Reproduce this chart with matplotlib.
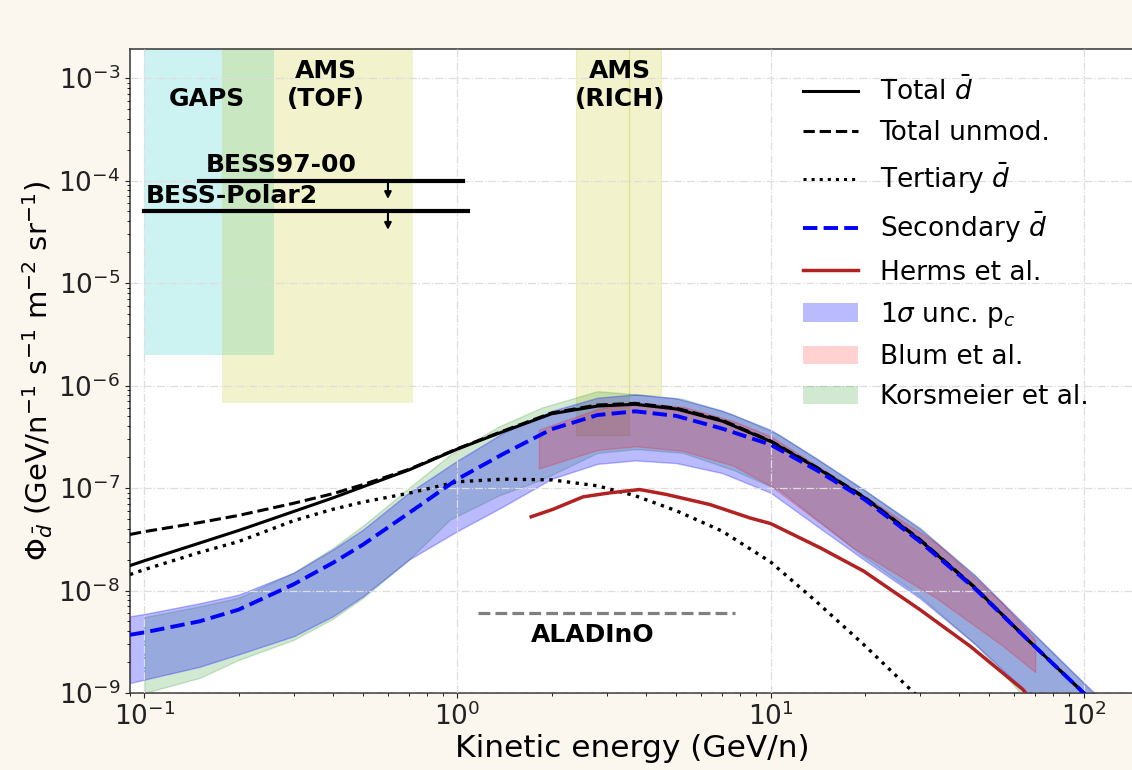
import matplotlib
matplotlib.use("Agg")
import matplotlib.pyplot as plt
from matplotlib.lines import Line2D
from matplotlib.patches import Patch
import numpy as np

# energies (GeV/n) for the model curves
energy = [0.09, 0.1, 0.15, 0.2, 0.3, 0.4, 0.5, 0.7, 1.0, 1.4, 2.0, 2.8, 3.7, 5.0,
          7.0, 10, 14, 20, 30, 45, 65, 100, 120]
total = [1.75e-8, 1.95e-8, 2.9e-8, 3.85e-8, 5.9e-8, 8.0e-8, 1.03e-7, 1.5e-7, 2.4e-7,
         3.55e-7, 5.3e-7, 6.3e-7, 6.55e-7, 5.9e-7, 4.5e-7, 2.85e-7, 1.58e-7, 8.0e-8,
         3.1e-8, 1.06e-8, 3.5e-9, 1.0e-9, 5.5e-10]
total_unmod = [3.52e-8, 3.75e-8, 4.6e-8, 5.4e-8, 7.1e-8, 8.8e-8, 1.08e-7, 1.52e-7, 2.42e-7,
               3.6e-7, 5.4e-7, 6.45e-7, 6.7e-7, 6.0e-7, 4.6e-7, 2.88e-7, 1.6e-7, 8.1e-8,
               3.15e-8, 1.07e-8, 3.5e-9, 1.0e-9, 5.5e-10]
secondary = [3.7e-9, 3.9e-9, 5.0e-9, 6.5e-9, 1.15e-8, 1.86e-8, 2.81e-8, 5.7e-8, 1.22e-7,
             2.15e-7, 3.75e-7, 5.15e-7, 5.6e-7, 5.05e-7, 3.8e-7, 2.65e-7, 1.5e-7, 7.7e-8,
             3.0e-8, 1.04e-8, 3.5e-9, 1.0e-9, 5.5e-10]
unc_upper = [5.6e-9, 5.9e-9, 7.5e-9, 9.1e-9, 1.49e-8, 2.51e-8, 3.94e-8, 9.0e-8, 1.85e-7,
             3.45e-7, 5.65e-7, 7.6e-7, 8.2e-7, 7.5e-7, 5.7e-7, 3.7e-7, 1.95e-7, 9.5e-8,
             4.0e-8, 1.4e-8, 4.6e-9, 1.26e-9, 7.5e-10]
unc_lower = [1.25e-9, 1.35e-9, 1.8e-9, 2.38e-9, 3.58e-9, 5.6e-9, 8.8e-9, 2.0e-8, 3.8e-8,
             6.6e-8, 1.23e-7, 1.72e-7, 1.86e-7, 1.75e-7, 1.4e-7, 9.0e-8, 4.3e-8, 1.97e-8,
             8.4e-9, 3.0e-9, 1.05e-9, 2e-10, 1e-10]

# tertiary
tert_energy = [0.09, 0.1, 0.15, 0.2, 0.3, 0.4, 0.5, 0.7, 1.0, 1.4, 2.0, 2.8, 3.7, 5.0,
               7.0, 10, 14, 20, 31]
tertiary = [1.43e-8, 1.6e-8, 2.35e-8, 3.0e-8, 4.8e-8, 6.2e-8, 7.3e-8, 8.9e-8, 1.15e-7,
            1.22e-7, 1.2e-7, 1.05e-7, 8.4e-8, 6.0e-8, 3.8e-8, 1.9e-8, 7.8e-9, 2.9e-9, 8e-10]

# Herms et al.
herms_energy = [1.72, 2.02, 2.52, 3.07, 3.82, 4.65, 6.4, 8.6, 10, 14.4, 19.8, 30, 43.4, 64, 66]
herms = [5.24e-8, 6.2e-8, 8.2e-8, 8.97e-8, 9.66e-8, 8.65e-8, 6.9e-8, 5.1e-8, 4.5e-8,
         2.61e-8, 1.55e-8, 6.5e-9, 2.86e-9, 1.08e-9, 9.5e-10]

# Blum et al. band
blum_energy = [1.82, 2.8, 3.73, 5.26, 7.6, 10, 18.4, 33.9, 55, 70]
blum_upper = [3.7e-7, 5.9e-7, 6.8e-7, 6.2e-7, 4.5e-7, 3.2e-7, 9.8e-8, 2.9e-8, 7.5e-9, 3.3e-9]
blum_lower = [1.55e-7, 2.35e-7, 2.55e-7, 2.3e-7, 1.65e-7, 1.05e-7, 2.6e-8, 8.4e-9, 2.9e-9, 1.6e-9]

# Korsmeier et al. band
kors_energy = [0.1, 0.15, 0.2, 0.3, 0.4, 0.5, 0.7, 0.945, 1.36, 1.86, 2.8, 3.73, 5.26,
               7.6, 10.7, 20, 30, 45, 65, 100, 110]
kors_upper = [5.5e-9, 7.0e-9, 8.5e-9, 1.5e-8, 2.6e-8, 4.3e-8, 1.0e-7, 2.1e-7, 4.0e-7,
              6.1e-7, 8.8e-7, 8.2e-7, 7.4e-7, 5.2e-7, 3.3e-7, 9.5e-8, 4.1e-8, 1.4e-8,
              4.5e-9, 1.25e-9, 9e-10]
kors_lower = [1.0e-9, 1.4e-9, 2.1e-9, 3.3e-9, 5.3e-9, 8.5e-9, 2.0e-8, 4.9e-8, 8.5e-8,
              1.21e-7, 2.2e-7, 2.4e-7, 2.2e-7, 1.5e-7, 9.5e-8, 2.1e-8, 8.8e-9, 3.0e-9,
              9e-10, 2.5e-10, 1.5e-10]

# experiment sensitivity regions: (E_min, E_max, flux_min)
gaps_region = (0.1, 0.26, 2e-6)
ams_tof_region = (0.177, 0.72, 6.7e-7)
ams_rich_regions = [(2.4, 3.52, 3.3e-7), (3.52, 4.46, 8e-7)]
region_top = 1e-2

# BESS upper limits: (E_min, E_max, flux, arrow_E, arrow_tip)
bess97 = (0.15, 1.04, 1.0e-4, 0.6, 6.6e-5)
bess_polar2 = (0.1, 1.08, 5.0e-5, 0.6, 3.3e-5)

# ALADInO sensitivity
aladino_energy = [1.16, 7.7]
aladino_flux = [6e-9, 6e-9]


fig = plt.figure(figsize=(11.32, 7.7), dpi=100, facecolor='#fcf7ee')
ax = fig.add_axes([0.1148, 0.1, 0.888, 0.8364])
ax.set_facecolor('white')

# zones des experiences
ax.fill_between(gaps_region[:2], gaps_region[2], region_top, color='c', alpha=0.2, lw=0, zorder=0.5)
ax.fill_between(ams_tof_region[:2], ams_tof_region[2], region_top, color='y', alpha=0.2, lw=0, zorder=0.5)
for e0, e1, fmin in ams_rich_regions:
    ax.fill_between([e0, e1], fmin, region_top, facecolor='y', alpha=0.2,
                    edgecolor='y', lw=0.8, zorder=0.5)

# bandes d'incertitude
ax.fill_between(kors_energy, kors_lower, kors_upper, color='green', alpha=0.18, zorder=1)
ax.fill_between(energy, unc_lower, unc_upper, color='blue', alpha=0.27, zorder=1)
ax.fill_between(blum_energy, blum_lower, blum_upper, color='red', alpha=0.2, zorder=1)

# courbes
ax.plot(energy, total, color='k', lw=2.2, zorder=3)
ax.plot(energy, total_unmod, color='k', ls='--', lw=2.2, zorder=3)
ax.plot(tert_energy, tertiary, color='k', ls=':', lw=2.4, zorder=3)
ax.plot(energy, secondary, color='blue', ls='--', lw=2.8, zorder=3)
ax.plot(herms_energy, herms, color='firebrick', lw=2.5, zorder=3)

# BESS
for e0, e1, f, ea, ftip in [bess97, bess_polar2]:
    ax.plot([e0, e1], [f, f], color='k', lw=3, zorder=4)
    ax.annotate('', xy=(ea, ftip), xytext=(ea, f),
                arrowprops=dict(arrowstyle='-|>', color='k', lw=1.5,
                                mutation_scale=10, shrinkA=0, shrinkB=0), zorder=4)

ax.plot(aladino_energy, aladino_flux, color='gray', ls='--', lw=2.3, zorder=3)

# textes
txt = dict(fontsize=18, fontweight='bold', ha='center', va='center', zorder=5)
ax.text(0.159, 6.2e-4, 'GAPS', **txt)
ax.text(0.38, 8.5e-4, 'AMS\n(TOF)', **txt)
ax.text(3.3, 8.5e-4, 'AMS\n(RICH)', **txt)
ax.text(0.274, 1.43e-4, 'BESS97-00', **txt)
ax.text(0.19, 7.0e-5, 'BESS-Polar2', **txt)
ax.text(2.7, 3.7e-9, 'ALADInO', **txt)

ax.set_xscale('log')
ax.set_yscale('log')
ax.set_xlim(0.09, 146)
ax.set_ylim(1e-9, 1.92e-3)

ax.grid(True, which='major', ls='-.', color='#dedede', lw=0.9)
ax.set_axisbelow(False)
ax.tick_params(labelsize=19, colors='#222222')
for sp in ax.spines.values():
    sp.set_color('#444444')
    sp.set_linewidth(1.2)

ax.set_xlabel('Kinetic energy (GeV/n)', fontsize=22.5, labelpad=2)
ax.set_ylabel(r'$\Phi_{\bar{d}}$ (GeV/n$^{-1}$ s$^{-1}$ m$^{-2}$ sr$^{-1}$)', fontsize=21, labelpad=2)

handles = [
    Line2D([], [], color='k', lw=2.2),
    Line2D([], [], color='k', ls='--', lw=2.2),
    Line2D([], [], color='k', ls=':', lw=2.2),
    Line2D([], [], color='blue', ls='--', lw=2.8),
    Line2D([], [], color='firebrick', lw=2.5),
    Patch(facecolor='blue', alpha=0.27),
    Patch(facecolor='red', alpha=0.18),
    Patch(facecolor='green', alpha=0.18),
]
labels = [r'Total $\bar{d}$', 'Total unmod.', r'Tertiary $\bar{d}$', r'Secondary $\bar{d}$',
          'Herms et al.', r'1$\sigma$ unc. p$_c$', 'Blum et al.', 'Korsmeier et al.']
leg = ax.legend(handles, labels, loc='upper left', bbox_to_anchor=(0.646, 0.994),
                fontsize=19, frameon=False, handlelength=2.1, handletextpad=0.8,
                labelspacing=0.54)
leg.set_zorder(6)

fig.savefig('out.png', dpi=100, facecolor=fig.get_facecolor())
